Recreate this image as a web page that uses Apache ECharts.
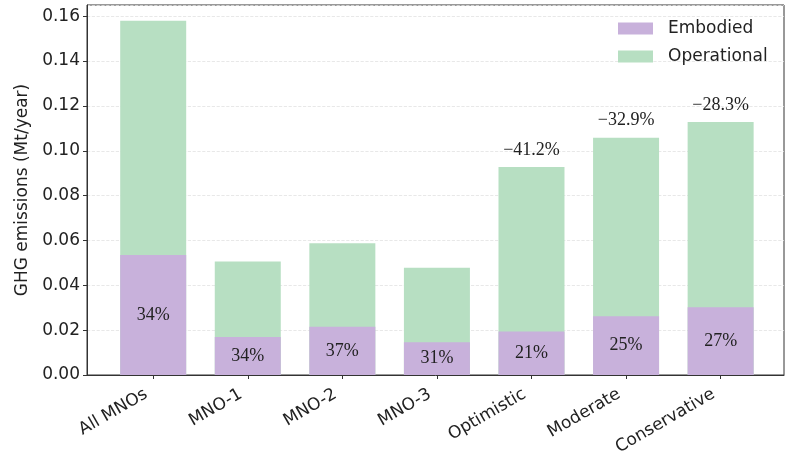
<!DOCTYPE html>
<html>
<head>
<meta charset="utf-8">
<script src="https://cdn.jsdelivr.net/npm/echarts@6/dist/echarts.min.js"></script>
<style>
  html, body { margin: 0; padding: 0; background: #fff; }
  #mainChart { width: 790px; height: 453px; }
</style>
</head>
<body>
<div id="mainChart"></div>
<script>
  // values
  var categories = ['All MNOs', 'MNO-1', 'MNO-2', 'MNO-3', 'Optimistic', 'Moderate', 'Conservative'];
  var totals = [0.158, 0.0506, 0.0588, 0.0478, 0.0928, 0.1058, 0.1128];
  var embodied = [0.0535, 0.0170, 0.0215, 0.0146, 0.0194, 0.0262, 0.0302];
  var embodiedPct = [34, 34, 37, 31, 21, 25, 27];
  var changeLabels = ['', '', '', '', '\u221241.2%', '\u221232.9%', '\u221228.3%'];

  var positions = categories.map(function (c, i) { return i; });

  var font = 'DejaVu Sans';
  var myChart = echarts.init(document.getElementById('mainChart'));
  // operational sits on top of embodied: draw the full total in green,
  // then the embodied part over it in the same slot
  myChart.setOption({
    animation: false,
    grid: {
      left: 87, right: 6, top: 5, bottom: 78,
      containLabel: false,
      outerBoundsMode: 'none',
      show: true,
      borderColor: '#333',
      borderWidth: 1
    },
    legend: {
      orient: 'vertical',
      left: 618,
      top: 20,
      padding: 0,
      icon: 'rect',
      itemWidth: 35,
      itemHeight: 12,
      itemGap: 11,
      data: ['Embodied', 'Operational'],
      textStyle: { fontFamily: font, fontSize: 17, color: '#222', padding: [0, 0, 0, 10] }
    },
    xAxis: {
      type: 'value',
      min: -0.7,
      max: 6.67,
      splitLine: { show: false },
      axisLine: { show: true, onZero: false, lineStyle: { color: '#333' } },
      axisTick: { show: true, customValues: positions, length: 4, lineStyle: { color: '#333' } },
      axisLabel: {
        customValues: positions,
        rotate: 30,
        margin: 14,
        padding: [0, 8, 0, 0],
        fontFamily: font,
        fontSize: 17,
        color: '#222',
        formatter: function (v) { return categories[Math.round(v)]; }
      }
    },
    yAxis: {
      type: 'value',
      min: 0,
      max: 0.165,
      interval: 0.02,
      name: 'GHG emissions (Mt/year)',
      nameLocation: 'middle',
      nameGap: 44,
      nameTextStyle: { fontFamily: font, fontSize: 17, color: '#222' },
      axisLine: { show: true, onZero: false, lineStyle: { color: '#333' } },
      axisTick: { show: true, length: 4, lineStyle: { color: '#333' } },
      axisLabel: {
        fontFamily: font,
        fontSize: 17,
        color: '#222',
        margin: 7,
        showMaxLabel: false,
        formatter: function (v) { return v.toFixed(2); }
      },
      splitLine: { show: true, lineStyle: { color: '#e2e2e2', type: 'dashed', width: 0.8 } }
    },
    series: [
      {
        name: 'Operational',
        type: 'bar',
        barWidth: 66,
        itemStyle: { color: '#b7dfc2' },
        data: positions.map(function (p, i) { return [p, totals[i]]; }),
        label: {
          show: true,
          position: 'top',
          distance: 8,
          fontFamily: 'Liberation Serif',
          fontSize: 18,
          color: '#222',
          formatter: function (p) { return changeLabels[p.dataIndex]; }
        }
      },
      {
        name: 'Embodied',
        type: 'bar',
        barWidth: 66,
        barGap: '-100%',
        itemStyle: { color: '#c8b1db' },
        data: positions.map(function (p, i) { return [p, embodied[i]]; }),
        label: {
          show: true,
          position: 'inside',
          fontFamily: 'Liberation Serif',
          fontSize: 18,
          color: '#222',
          formatter: function (p) { return embodiedPct[p.dataIndex] + '%'; }
        }
      }
    ]
  });
</script>
</body>
</html>
